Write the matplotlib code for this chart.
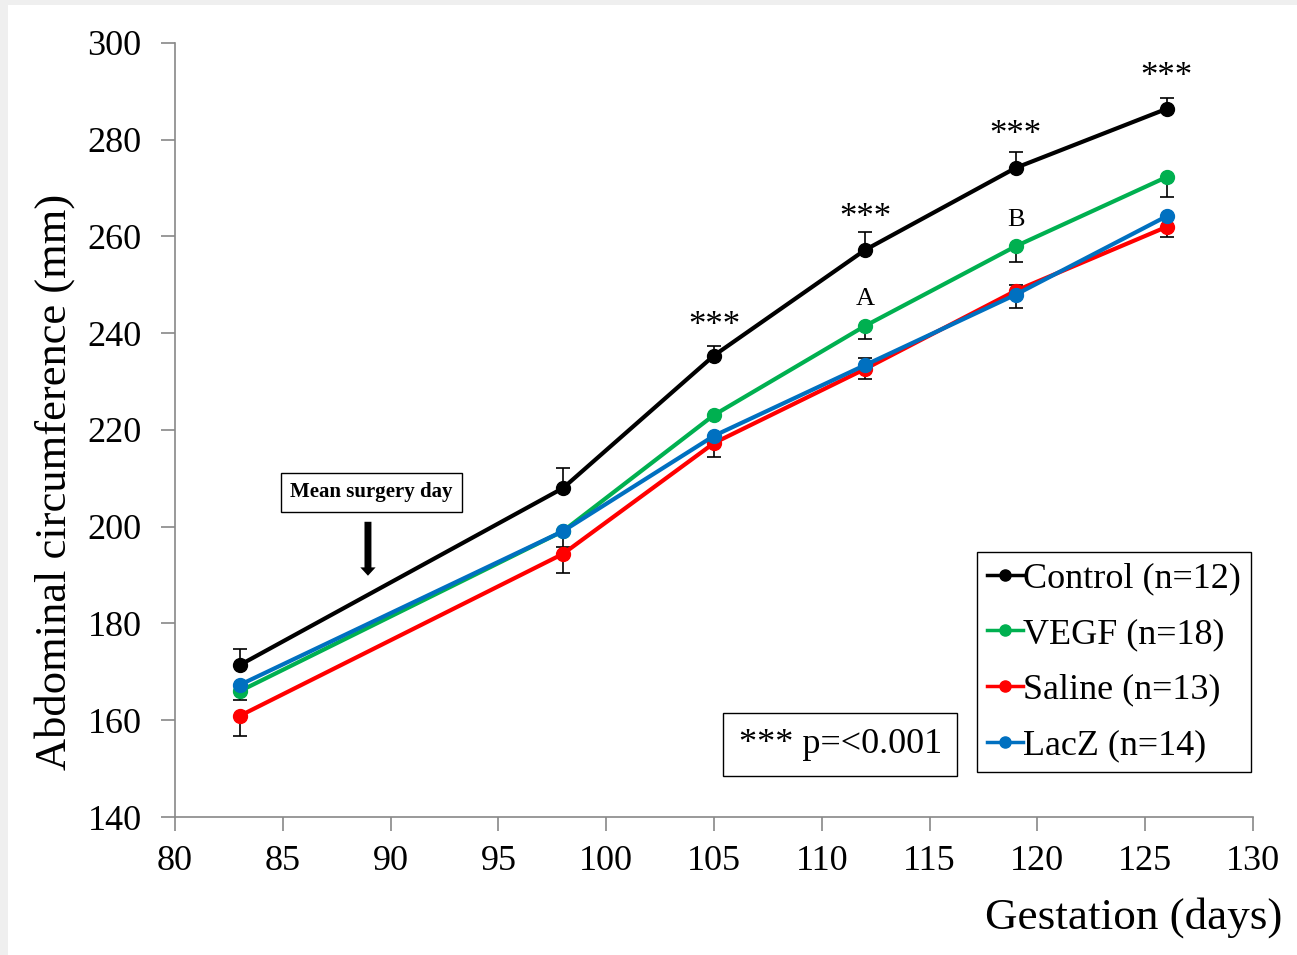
import matplotlib.pyplot as plt
from matplotlib.patches import Rectangle

plt.rcParams['font.family'] = ['Liberation Serif', 'DejaVu Serif']

## datos
days = [83, 98, 105, 112, 119, 126]

control = [171.4, 208.0, 235.4, 257.2, 274.2, 286.4]
vegf = [166.0, 199.1, 223.1, 241.5, 258.0, 272.3]
saline = [160.9, 194.4, 217.3, 232.6, 248.8, 262.0]
lacz = [167.3, 199.1, 218.8, 233.4, 248.0, 264.2]

# barras de error de un solo lado (abajo, arriba)
control_err = ([0, 0, 0, 0, 0, 0], [3.3, 4.1, 2.0, 3.7, 3.3, 2.2])
vegf_err = ([1.8, 0, 0, 2.7, 3.3, 4.1], [0, 0, 0, 0, 0, 0])
saline_err = ([4.2, 4.0, 2.9, 2.1, 0, 2.1], [0, 0, 0, 0, 1.2, 0])
lacz_err = ([0, 3.3, 0, 0, 2.7, 0], [0, 0, 0, 1.5, 0, 0])

series = [
    ("Control (n=12)", control, control_err, "#000000"),
    ("VEGF (n=18)", vegf, vegf_err, "#00b050"),
    ("Saline (n=13)", saline, saline_err, "#ff0000"),
    ("LacZ (n=14)", lacz, lacz_err, "#0070c0"),
]

stars_x = [105, 112, 119, 126]
stars_y = [241.3, 263.7, 280.9, 292.9]
letters = [("A", 112, 247.0), ("B", 119, 263.5)]

fig = plt.figure(figsize=(12.97, 9.55), dpi=100, facecolor="#efefef")
fig.patches.append(Rectangle((8 / 1297, 0), 1, 1 - 5 / 955, transform=fig.transFigure,
                             facecolor="white", edgecolor="none", zorder=-10))

ax = fig.add_axes([175 / 1297, 138 / 955, 1078 / 1297, 774 / 955])

for name, vals, err, col in series:
    ax.errorbar(days, vals, yerr=err, fmt="none", ecolor="black", elinewidth=1.2,
                capsize=5, capthick=1.2, zorder=2)
for name, vals, err, col in series:
    ax.plot(days, vals, color=col, lw=3, marker="o", markersize=10, label=name, zorder=3)

ax.set_xlim(80, 130)
ax.set_ylim(140, 300)
ax.set_xticks(range(80, 131, 5))
ax.set_yticks(range(140, 301, 20))
ax.tick_params(labelsize=26, length=10, width=1.2, color="#888888")
ax.tick_params(axis="x", pad=10)
ax.tick_params(axis="y", pad=14)
for side in ["top", "right"]:
    ax.spines[side].set_visible(False)
for side in ["left", "bottom"]:
    ax.spines[side].set_color("#888888")
    ax.spines[side].set_linewidth(1.2)

for x, y in zip(stars_x, stars_y):
    ax.text(x, y, "***", ha="center", va="center", fontsize=25)
for t, x, y in letters:
    ax.text(x, y, t, ha="center", va="center", fontsize=19)

# caja y flecha del dia de cirugia
ax.text(89.1, 207.1, "Mean surgery day", ha="center", va="center", fontsize=15,
        fontweight="bold",
        bbox=dict(boxstyle="square,pad=0.45", facecolor="white", edgecolor="black", lw=1))
ax.annotate("", xy=(88.95, 189.3), xytext=(88.95, 201.6),
            arrowprops=dict(arrowstyle="simple,head_width=1.1,head_length=0.6,tail_width=0.5",
                            color="black", lw=0))

ax.text(0.617, 0.094, "*** p=<0.001", transform=ax.transAxes, ha="center", va="center",
        fontsize=26,
        bbox=dict(boxstyle="square,pad=0.42", facecolor="white", edgecolor="black", lw=1))

leg = fig.legend(loc="upper left", bbox_to_anchor=(977 / 1297, 1 - 552 / 955), fontsize=26,
                 frameon=True, fancybox=False, handlelength=1.0, handletextpad=0.0,
                 borderpad=0.28, borderaxespad=0, labelspacing=0.62, markerscale=0.8,
                 framealpha=1)
leg.get_frame().set_edgecolor("black")
leg.get_frame().set_linewidth(1)
for h in leg.get_lines():
    h.set_linewidth(2.5)

fig.text(1282 / 1297, 1 - 918 / 955, "Gestation (days)", ha="right", va="center", fontsize=32.5)
fig.text(55 / 1297, 1 - 482 / 955, "Abdominal circumference (mm)", ha="center", va="center",
         rotation=90, fontsize=32)

fig.savefig("out.png", dpi=100, facecolor=fig.get_facecolor())
